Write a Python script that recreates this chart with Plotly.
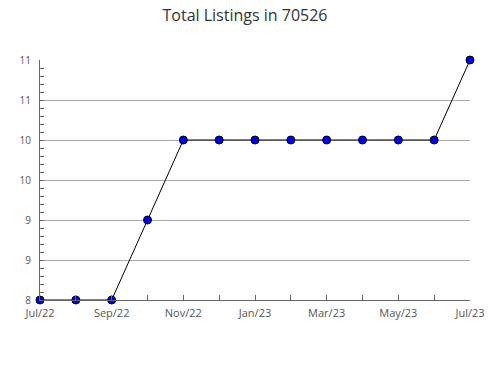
import plotly.graph_objects as go

months = ["Jul/22", "Aug/22", "Sep/22", "Oct/22", "Nov/22", "Dec/22", "Jan/23",
          "Feb/23", "Mar/23", "Apr/23", "May/23", "Jun/23", "Jul/23"]
listings = [8, 8, 8, 9, 10, 10, 10, 10, 10, 10, 10, 10, 11]
y_tickvals = [8, 8.5, 9, 9.5, 10, 10.5, 11]
y_ticktext = ["8", "9", "9", "10", "10", "11", "11"]

x_idx = list(range(len(months)))
x_ticktext = [m if i % 2 == 0 else "" for i, m in enumerate(months)]

fig = go.Figure()
fig.add_trace(go.Scatter(
    x=x_idx, y=listings, mode="lines+markers",
    line=dict(color="black", width=1),
    marker=dict(symbol="circle", size=8, color="#0000ee",
                line=dict(color="black", width=1)),
    cliponaxis=False, showlegend=False,
))

fig.update_layout(
    width=490, height=380,
    margin=dict(l=40, r=20, t=60, b=80, autoexpand=False),
    paper_bgcolor="white", plot_bgcolor="white",
    font=dict(family="Open Sans", size=11, color="#555"),
    title=dict(text="Total Listings in 70526", x=0.5, xanchor="center",
               y=0.96, yanchor="middle",
               font=dict(family="Open Sans", size=16, color="#333")),
)
fig.update_xaxes(
    range=[0, 12], tickmode="array", tickvals=x_idx, ticktext=x_ticktext,
    ticks="inside", ticklen=5, tickcolor="#666", showgrid=False,
    showline=True, linecolor="#666", linewidth=1, zeroline=False,
    automargin=False, ticklabelstandoff=3,
    tickfont=dict(size=11, color="#555"),
)
fig.update_yaxes(
    range=[8, 11], tickmode="array", tickvals=y_tickvals, ticktext=y_ticktext,
    ticks="inside", ticklen=4, tickcolor="#666",
    showgrid=True, gridcolor="#aaa", gridwidth=1,
    showline=True, linecolor="#666", linewidth=1, zeroline=False,
    automargin=False, ticklabelstandoff=6,
    minor=dict(tickmode="linear", tick0=8, dtick=0.1, ticks="inside",
               ticklen=4, tickcolor="#666", showgrid=False),
    tickfont=dict(size=10, color="#555"),
)

fig.write_html("out.html")
